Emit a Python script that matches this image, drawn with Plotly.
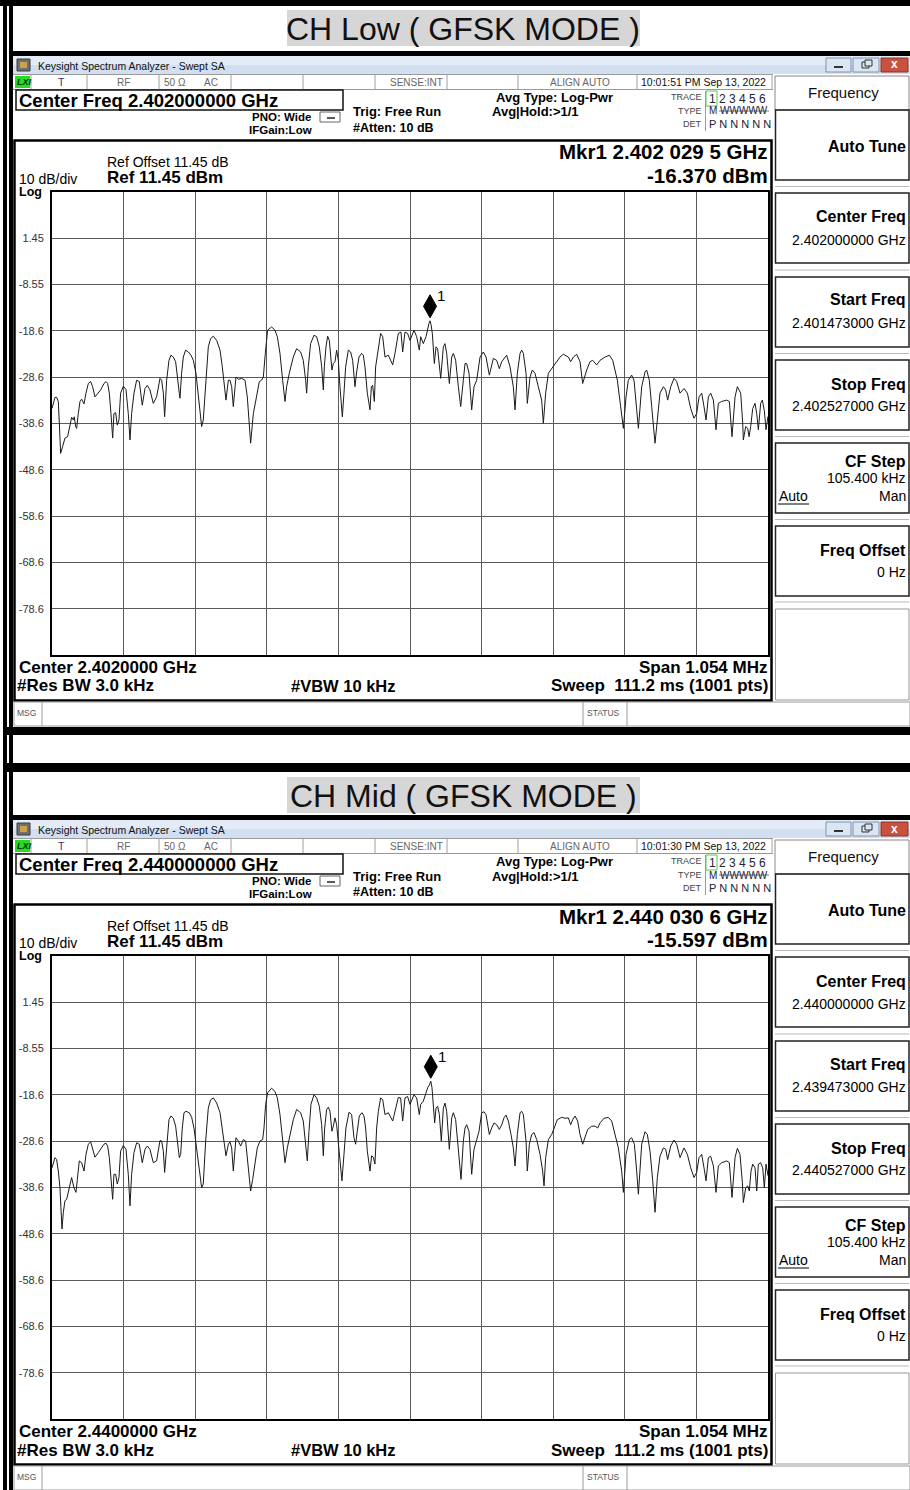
import plotly.graph_objects as go

W, H = 910, 1490
FONT = "Liberation Sans, Arial, sans-serif"

# ---------------- data ----------------
SPAN_KHZ = 1054.0
REF_LEVEL_DBM = 11.45
BOTTOM_LEVEL_DBM = -88.55
Y_TICK_VALS = [1.45, -8.55, -18.55, -28.55, -38.55, -48.55, -58.55, -68.55, -78.55]
Y_TICK_TEXT = ["1.45", "-8.55", "-18.6", "-28.6", "-38.6", "-48.6", "-58.6", "-68.6", "-78.6"]

CHANNEL_NAMES = ["CH Low ( GFSK MODE )", "CH Mid ( GFSK MODE )"]
CENTER_GHZ = [2.402, 2.440]
MKR_OFFSET_KHZ = [29.5, 30.6]
MKR_LEVEL_DBM = [-16.370, -15.597]
TIMESTAMPS = ["10:01:51 PM Sep 13, 2022", "10:01:30 PM Sep 13, 2022"]

LOW_FREQ_KHZ = [
    -527.0, -525.1, -522.6, -520.2, -517.7, -516.2, -514.3, -511.3, -507.9, -504.0,
    -500.5, -498.1, -495.6, -494.2, -492.2, -490.7, -488.3, -485.8, -483.4, -479.9,
    -477.0, -473.5, -470.1, -467.2, -463.7, -458.8, -455.4, -450.5, -447.5, -445.1,
    -442.6, -440.2, -437.7, -435.8, -433.3, -430.9, -428.4, -426.0, -422.0, -418.1,
    -414.7, -412.2, -409.8, -406.3, -402.4, -398.5, -396.5, -394.1, -390.1, -386.7,
    -382.8, -377.9, -373.0, -368.0, -365.6, -363.1, -361.2, -358.2, -354.8, -351.9,
    -348.4, -345.0, -339.6, -338.6, -336.2, -333.7, -330.3, -326.3, -322.4, -319.0,
    -315.1, -311.6, -306.7, -304.3, -300.8, -296.9, -293.5, -289.5, -284.6, -279.7,
    -276.3, -273.3, -270.9, -267.4, -265.0, -262.5, -260.1, -256.2, -252.7, -247.8,
    -242.9, -239.5, -236.5, -234.6, -230.6, -225.7, -221.8, -218.4, -215.9, -213.0,
    -209.6, -203.7, -198.8, -195.3, -191.4, -187.5, -184.0, -181.6, -177.7, -171.8,
    -166.9, -161.0, -157.1, -153.6, -152.2, -149.7, -146.3, -141.3, -137.4, -133.5,
    -130.0, -127.6, -126.1, -123.7, -121.2, -118.8, -114.9, -112.9, -110.4, -108.0,
    -105.5, -103.1, -99.6, -97.2, -94.7, -90.8, -87.4, -84.4, -81.0, -78.5,
    -75.1, -71.2, -68.7, -66.3, -62.8, -58.9, -56.9, -55.0, -52.5, -50.6,
    -46.6, -43.2, -40.2, -36.8, -31.9, -25.5, -22.1, -17.2, -13.3, -10.8,
    -7.4, -3.5, 0.0, 5.9, 9.8, 13.7, 15.7, 19.6, 23.6, 25.5,
    28.0, 29.5, 31.0, 32.9, 35.8, 38.3, 40.7, 45.2, 49.1, 51.5,
    54.0, 57.9, 61.4, 63.8, 67.2, 71.2, 74.6, 78.5, 81.0, 83.4,
    86.9, 90.8, 94.2, 98.2, 103.1, 108.0, 111.9, 116.8, 120.2, 122.7,
    127.6, 131.5, 135.0, 139.9, 142.3, 147.2, 152.1, 154.6, 158.0, 162.0,
    164.4, 166.9, 170.8, 172.7, 176.7, 180.1, 184.0, 188.9, 193.8, 196.3,
    199.7, 203.7, 208.6, 213.5, 220.8, 225.7, 233.1, 236.5, 240.5, 245.4,
    250.3, 254.2, 260.1, 265.0, 268.9, 274.8, 279.7, 287.1, 293.5, 298.4,
    305.2, 310.1, 314.1, 318.0, 321.4, 326.3, 329.8, 333.7, 336.2, 341.1,
    346.0, 348.4, 352.3, 355.8, 359.2, 360.7, 364.1, 368.0, 373.0, 376.4,
    379.3, 383.8, 388.7, 392.6, 397.5, 403.4, 408.3, 413.2, 418.1, 422.0,
    425.5, 429.4, 432.8, 435.8, 439.2, 442.6, 446.6, 450.5, 453.9, 458.8,
    466.2, 470.1, 474.0, 478.5, 481.9, 486.8, 489.8, 490.7, 494.2, 497.1,
    499.1, 501.5, 504.5, 507.9, 510.4, 512.8, 516.2, 518.7, 521.6, 524.1,
    527.0,
]
LOW_LEVEL_DBM = [
    -35.3, -34.1, -32.9, -32.9, -33.8, -38.5, -45.0, -43.5, -41.7, -41.4,
    -39.2, -37.2, -37.8, -37.1, -39.2, -39.6, -36.4, -33.8, -33.3, -34.3,
    -32.0, -29.9, -29.5, -30.6, -32.8, -32.0, -31.3, -29.9, -29.5, -29.9,
    -32.0, -36.4, -41.7, -36.4, -36.2, -38.9, -37.8, -32.0, -30.5, -31.2,
    -36.4, -42.1, -36.4, -32.0, -29.2, -29.5, -32.0, -34.6, -31.0, -30.3,
    -31.3, -34.2, -32.8, -28.8, -29.2, -32.0, -37.1, -29.2, -24.9, -23.8,
    -24.2, -25.2, -32.0, -33.1, -27.7, -24.2, -22.7, -23.1, -23.8, -24.9,
    -27.7, -32.8, -39.2, -37.8, -29.2, -22.0, -20.2, -19.7, -20.6, -22.7,
    -26.3, -31.3, -33.5, -29.2, -29.2, -30.6, -34.9, -28.5, -29.0, -28.8,
    -29.2, -32.8, -37.8, -42.8, -36.4, -32.0, -29.5, -29.2, -28.5, -23.4,
    -18.4, -17.7, -18.4, -19.8, -23.4, -29.2, -33.8, -30.6, -27.7, -24.2,
    -22.4, -23.1, -24.9, -29.2, -32.0, -26.3, -21.3, -19.5, -19.8, -22.0,
    -26.3, -31.3, -26.3, -22.0, -19.7, -20.6, -27.0, -25.6, -25.2, -22.7,
    -24.9, -30.6, -37.1, -32.0, -26.3, -22.7, -23.1, -24.9, -30.6, -27.4,
    -24.2, -23.4, -23.8, -26.3, -32.0, -35.6, -30.6, -30.3, -33.8, -26.3,
    -22.0, -19.1, -19.8, -24.2, -23.8, -25.9, -23.4, -19.1, -18.8, -23.1,
    -18.8, -19.1, -20.6, -18.4, -19.8, -22.7, -19.8, -21.3, -19.8, -18.4,
    -16.9, -16.37, -17.2, -19.1, -25.6, -22.0, -22.4, -28.8, -22.0, -21.3,
    -23.4, -29.9, -24.2, -23.4, -24.9, -30.6, -34.9, -29.2, -25.6, -25.6,
    -27.7, -35.6, -30.6, -29.2, -24.2, -23.1, -24.2, -28.1, -25.6, -24.5,
    -24.9, -26.7, -25.2, -24.2, -23.8, -26.3, -30.6, -35.6, -27.7, -23.4,
    -22.7, -23.4, -27.7, -34.2, -28.5, -27.0, -27.7, -30.6, -33.5, -38.5,
    -32.0, -27.7, -26.7, -25.6, -24.2, -23.6, -24.2, -25.2, -24.2, -23.6,
    -25.2, -29.9, -27.0, -25.2, -24.9, -25.9, -24.9, -24.2, -23.8, -24.9,
    -29.2, -34.9, -39.6, -32.8, -29.2, -28.1, -29.2, -35.6, -39.6, -30.6,
    -27.4, -27.0, -29.2, -34.9, -40.7, -42.8, -37.8, -32.0, -30.6, -31.3,
    -33.5, -30.6, -28.8, -29.5, -32.0, -31.0, -32.0, -35.3, -37.4, -36.4,
    -32.8, -32.0, -34.9, -37.8, -32.8, -32.0, -33.5, -39.9, -34.2, -33.8,
    -33.5, -33.8, -41.4, -32.8, -30.6, -32.0, -38.5, -42.1, -39.2, -39.6,
    -41.4, -39.2, -35.3, -34.2, -36.4, -39.9, -34.2, -33.5, -35.8, -39.9,
    -37.0,
]

MID_FREQ_KHZ = [
    -527.0, -525.1, -522.6, -520.2, -517.7, -515.3, -513.8, -512.3, -510.3, -507.9,
    -505.4, -501.5, -498.1, -494.7, -491.7, -489.7, -486.8, -483.4, -479.9, -477.0,
    -473.5, -470.1, -467.2, -463.7, -458.8, -455.4, -450.5, -447.5, -445.1, -442.6,
    -440.2, -437.7, -435.8, -433.3, -430.9, -428.4, -426.0, -422.0, -418.1, -414.7,
    -412.2, -409.8, -406.3, -402.4, -398.5, -396.5, -394.1, -390.1, -386.7, -382.8,
    -377.9, -373.0, -368.0, -365.6, -363.1, -361.2, -358.2, -354.8, -351.9, -348.4,
    -345.0, -339.6, -337.6, -335.2, -332.7, -329.8, -324.9, -321.4, -318.0, -314.1,
    -310.6, -306.7, -304.3, -300.8, -296.9, -293.5, -289.5, -284.6, -279.7, -276.3,
    -273.3, -270.9, -267.4, -265.0, -262.5, -260.1, -256.2, -252.7, -249.3, -245.4,
    -242.0, -239.5, -236.5, -234.6, -231.6, -228.2, -224.8, -220.8, -216.9, -214.9,
    -212.5, -209.6, -203.7, -198.8, -195.3, -191.4, -187.5, -184.0, -180.6, -176.7,
    -171.8, -166.9, -161.0, -157.1, -153.6, -151.2, -148.7, -145.8, -141.3, -137.4,
    -133.5, -130.0, -127.6, -125.6, -122.7, -120.2, -117.8, -114.9, -112.9, -110.4,
    -108.0, -104.5, -102.1, -100.2, -97.2, -94.3, -89.8, -85.9, -82.5, -80.0,
    -77.6, -74.6, -70.7, -67.7, -65.3, -62.8, -58.9, -56.5, -54.0, -51.6,
    -49.1, -46.6, -43.2, -40.2, -36.8, -31.9, -25.5, -22.1, -17.2, -13.8,
    -10.8, -7.4, -3.5, 0.0, 5.9, 9.8, 13.7, 15.7, 19.6, 23.6,
    26.0, 28.5, 30.6, 32.4, 34.4, 36.3, 38.3, 40.7, 43.2, 46.1,
    49.1, 51.5, 54.0, 57.9, 61.4, 63.8, 67.2, 71.2, 75.1, 78.5,
    81.0, 83.4, 86.9, 90.8, 94.2, 98.2, 101.6, 105.5, 109.0, 111.9,
    116.8, 120.2, 123.7, 127.6, 131.5, 135.0, 138.4, 141.3, 144.8, 148.7,
    152.1, 154.6, 158.0, 162.0, 164.4, 166.9, 170.8, 172.7, 175.7, 179.1,
    182.6, 186.5, 191.4, 195.3, 197.3, 199.7, 203.7, 208.6, 212.5, 216.9,
    223.3, 228.2, 233.1, 236.5, 239.5, 242.9, 246.8, 250.3, 254.2, 257.6,
    261.6, 267.5, 272.4, 276.3, 279.7, 285.6, 292.0, 296.9, 301.8, 306.7,
    311.6, 314.1, 318.0, 322.9, 326.3, 330.3, 333.7, 336.2, 341.1, 346.0,
    349.4, 353.3, 357.3, 360.7, 364.1, 368.0, 373.0, 376.4, 379.3, 383.8,
    388.7, 392.6, 397.5, 403.4, 408.3, 413.2, 418.1, 422.0, 425.5, 429.4,
    432.8, 435.8, 439.2, 442.6, 446.6, 450.5, 453.9, 458.8, 466.2, 470.1,
    474.0, 478.5, 481.9, 485.8, 489.3, 490.7, 494.2, 497.1, 499.5, 502.0,
    504.5, 507.9, 510.4, 512.8, 516.2, 519.2, 521.6, 524.1, 527.0,
]
MID_LEVEL_DBM = [
    -34.3, -33.2, -32.1, -32.5, -35.0, -38.6, -43.9, -47.5, -43.9, -41.4,
    -41.1, -38.2, -36.4, -38.6, -39.6, -36.8, -32.8, -33.2, -35.0, -31.4,
    -29.2, -28.7, -30.0, -32.0, -31.0, -30.3, -29.2, -29.0, -29.6, -32.1,
    -35.7, -41.1, -35.7, -35.7, -37.8, -36.4, -30.7, -29.5, -30.3, -35.7,
    -42.5, -35.7, -31.0, -28.9, -29.2, -31.4, -33.2, -30.3, -29.6, -30.3,
    -33.2, -32.8, -28.4, -28.5, -30.7, -35.3, -29.2, -23.9, -23.1, -23.6,
    -25.3, -32.1, -31.4, -25.7, -22.4, -22.1, -22.4, -23.4, -25.7, -30.0,
    -34.3, -38.6, -37.8, -28.5, -21.4, -19.6, -19.2, -20.3, -22.4, -26.4,
    -30.0, -31.7, -29.2, -28.7, -30.0, -35.0, -27.8, -28.5, -29.6, -28.2,
    -28.5, -32.1, -36.4, -39.3, -36.8, -33.5, -30.0, -28.5, -28.2, -25.7,
    -20.6, -18.1, -17.1, -17.8, -19.2, -22.8, -28.5, -33.2, -30.0, -27.4,
    -23.9, -21.7, -22.4, -24.2, -28.5, -32.8, -26.4, -20.6, -18.5, -19.2,
    -21.0, -25.0, -31.7, -25.7, -21.7, -21.2, -22.1, -26.4, -25.3, -23.5,
    -25.0, -30.0, -34.3, -37.1, -31.4, -25.7, -22.3, -22.8, -27.8, -29.2,
    -26.4, -23.1, -22.4, -23.1, -25.7, -30.7, -35.0, -31.7, -32.0, -33.5,
    -25.7, -22.1, -19.2, -19.6, -22.8, -22.4, -24.2, -22.1, -19.1, -19.2,
    -24.2, -19.2, -18.9, -20.6, -18.5, -19.2, -22.8, -20.6, -19.9, -18.1,
    -17.0, -16.4, -15.6, -17.0, -21.4, -24.6, -21.4, -21.0, -22.8, -28.5,
    -21.4, -20.3, -22.1, -30.3, -23.5, -22.4, -23.9, -30.0, -36.8, -28.5,
    -25.7, -25.0, -26.4, -35.7, -30.3, -28.2, -26.4, -22.4, -22.2, -22.8,
    -27.1, -25.7, -24.6, -25.0, -26.0, -25.0, -23.5, -22.9, -24.2, -27.1,
    -30.0, -33.9, -27.1, -22.4, -22.1, -22.8, -28.5, -35.0, -29.2, -27.1,
    -26.7, -28.2, -31.4, -35.0, -38.2, -32.1, -28.2, -27.1, -25.7, -23.9,
    -23.4, -23.6, -23.5, -25.0, -23.9, -23.1, -24.2, -27.1, -29.2, -27.8,
    -26.0, -25.3, -25.3, -25.7, -24.6, -23.6, -23.4, -24.2, -27.1, -30.0,
    -35.0, -39.6, -31.4, -28.2, -27.8, -29.2, -35.0, -40.0, -29.2, -26.5,
    -27.1, -30.7, -37.1, -43.9, -36.4, -31.8, -30.0, -30.3, -32.5, -29.6,
    -28.3, -29.2, -32.1, -30.0, -31.4, -34.3, -36.4, -35.3, -32.1, -31.4,
    -34.3, -37.1, -32.1, -31.8, -33.9, -39.6, -33.9, -33.2, -32.8, -33.2,
    -40.7, -32.1, -30.1, -31.4, -37.5, -41.8, -38.6, -38.2, -39.3, -35.0,
    -33.5, -34.3, -39.3, -33.5, -33.2, -34.3, -38.6, -33.5, -36.0,
]

TRACES_FREQ = [LOW_FREQ_KHZ, MID_FREQ_KHZ]
TRACES_LEVEL = [LOW_LEVEL_DBM, MID_LEVEL_DBM]

# ---------------- helpers (layout only) ----------------
shapes, annos = [], []


def X(px):
    return px / W


def Y(py):
    return 1 - py / H


def box(x0, y0, x1, y1, fill="rgba(0,0,0,0)", line=None, lw=1.0):
    shapes.append(dict(type="rect", xref="paper", yref="paper",
                       x0=X(x0), x1=X(x1), y0=Y(y1), y1=Y(y0),
                       fillcolor=fill,
                       line=dict(color=line if line else "rgba(0,0,0,0)", width=lw if line else 0),
                       layer="above"))


def hline(x0, x1, y, color="#000", lw=1.0):
    shapes.append(dict(type="line", xref="paper", yref="paper", x0=X(x0), x1=X(x1),
                       y0=Y(y), y1=Y(y), line=dict(color=color, width=lw)))


def vline(x, y0, y1, color="#000", lw=1.0):
    shapes.append(dict(type="line", xref="paper", yref="paper", x0=X(x), x1=X(x),
                       y0=Y(y0), y1=Y(y1), line=dict(color=color, width=lw)))


def txt(x, y, s, size=12, bold=False, anchor="left", color="#000", family=FONT):
    if bold:
        s = "<b>" + s + "</b>"
    annos.append(dict(xref="paper", yref="paper", x=X(x), y=Y(y), text=s, showarrow=False,
                      xanchor=anchor, yanchor="middle", borderpad=0,
                      font=dict(size=size, color=color, family=family)))


def ghz(v, nd):
    return f"{v:.{nd}f}"


fig = go.Figure()

# global black frame pieces
box(0, 0, W, 6, fill="#000")
box(3, 0, 7, H, fill="#000")
box(9, 0, 13, H, fill="#000")

GRID_TOP, GRID_BOT, GRID_L, GRID_R = 192, 655, 52, 768

for i, dy in enumerate([0, 764]):
    c = CENTER_GHZ[i]
    # channel title
    ty = 28 if i == 0 else 795
    box(287, ty - 18, 640, ty + 18, fill="#d6d6d6")
    txt(463.5, ty + 1, CHANNEL_NAMES[i], size=32, anchor="center", color="#111")

    # window top border + title bar
    box(13, 51 + dy, W, 56 + dy, fill="#000")
    box(13, 56 + dy, W, 65 + dy, fill="#e2ebf6")
    box(13, 65 + dy, W, 74 + dy, fill="#d2dff0")
    box(17, 59 + dy, 30, 71 + dy, fill="#6d6f73", line="#3a3a3a", lw=1)
    box(20, 62 + dy, 27, 68 + dy, fill="#c9a24a")
    txt(37, 65.5 + dy, "Keysight Spectrum Analyzer - Swept SA", size=10.5, color="#111")
    # window buttons
    box(826, 58 + dy, 851, 72 + dy, fill="#dbe6f3", line="#7f93b0", lw=1)
    hline(834, 843, 67 + dy, "#333", 2)
    box(853, 58 + dy, 879, 72 + dy, fill="#dbe6f3", line="#7f93b0", lw=1)
    box(862, 62 + dy, 869, 68 + dy, line="#333", lw=1)
    box(865, 60 + dy, 872, 66 + dy, fill="#dbe6f3", line="#333", lw=1)
    box(881, 58 + dy, 908, 72 + dy, fill="#c8513f", line="#8a3326", lw=1)
    txt(894.5, 64.5 + dy, "x", size=12, bold=True, anchor="center", color="#fff")

    # status row
    hline(13, 773, 74.5 + dy, "#9a9a9a", 1)
    hline(13, 773, 89.5 + dy, "#9a9a9a", 1)
    box(15, 76 + dy, 30, 88 + dy, fill="#22dd22")
    txt(16, 82 + dy, "<i>LXI</i>", size=9, bold=True, color="#113311")
    for sx in [31, 87, 159, 231, 303, 375, 447, 518, 637, 772]:
        vline(sx, 75 + dy, 89 + dy, "#a0a0a0", 1)
    txt(62, 82 + dy, "T", size=10.5, anchor="center", color="#3d2b73")
    txt(124, 82 + dy, "RF", size=10, anchor="center", color="#666")
    txt(175, 82 + dy, "50 Ω", size=10, anchor="center", color="#666")
    txt(211, 82 + dy, "AC", size=10, anchor="center", color="#666")
    txt(444, 82 + dy, "SENSE:INT", size=10, anchor="right", color="#666")
    txt(580, 82 + dy, "ALIGN AUTO", size=10, anchor="center", color="#666")
    txt(640, 82 + dy, TIMESTAMPS[i], size=10.5, color="#111")

    # header
    box(16, 90 + dy, 343, 110 + dy, line="#111", lw=1.5)
    txt(18, 100.5 + dy, "Center Freq " + ghz(c, 9) + " GHz", size=18.5, bold=True)
    txt(312, 117 + dy, "PNO: Wide", size=11.5, bold=True, anchor="right")
    box(320, 112 + dy, 340, 122 + dy, line="#666", lw=1)
    hline(327, 335, 118 + dy, "#222", 1.5)
    txt(313, 130 + dy, "IFGain:Low", size=11.5, bold=True, anchor="right")
    txt(352, 112 + dy, "Trig: Free Run", size=13, bold=True)
    txt(352, 128 + dy, "#Atten: 10 dB", size=12.5, bold=True)
    txt(495, 97 + dy, "Avg Type: Log-Pwr", size=13, bold=True)
    txt(491, 112 + dy, "Avg|Hold:>1/1", size=13, bold=True)
    txt(703, 97 + dy, "TRACE", size=9, anchor="right", color="#444")
    txt(703, 111 + dy, "TYPE", size=9, anchor="right", color="#444")
    txt(703, 124 + dy, "DET", size=9, anchor="right", color="#444")
    vline(705.5, 91 + dy, 131 + dy, "#999", 1)
    box(706, 91 + dy, 717, 106 + dy, line="#55cc55", lw=1)
    txt(708, 99 + dy, "1 2 3 4 5 6", size=12, color="#223")
    txt(708, 111 + dy, "M WWWWW", size=10, color="#223")
    hline(719, 769, 111 + dy, "#556", 0.8)
    txt(708, 124 + dy, "P N N N N N", size=11, color="#223")

    # plot frame and texts
    box(14.5, 140.5 + dy, 771.5, 700.5 + dy, line="#000", lw=2.5)
    txt(106, 162 + dy, "Ref Offset 11.45 dB", size=14)
    txt(18, 179 + dy, "10 dB/div", size=14)
    txt(106, 177.5 + dy, "Ref 11.45 dBm", size=17, bold=True)
    txt(18, 192.5 + dy, "Log", size=12.5, bold=True)
    mk = c + MKR_OFFSET_KHZ[i] / 1e6
    s = f"{mk:.7f}"
    txt(769, 152 + dy, "Mkr1 " + s[:5] + " " + s[5:8] + " " + s[8:] + " GHz", size=20.5, bold=True, anchor="right")
    txt(769, 175 + dy, f"{MKR_LEVEL_DBM[i]:.3f} dBm", size=20.5, bold=True, anchor="right")
    txt(18, 667 + dy, "Center " + ghz(c, 7) + " GHz", size=17, bold=True)
    txt(769, 667 + dy, "Span " + f"{SPAN_KHZ / 1000:.3f}" + " MHz", size=17, bold=True, anchor="right")
    txt(16, 686 + dy, "#Res BW 3.0 kHz", size=17, bold=True)
    txt(290, 686 + dy, "#VBW 10 kHz", size=16.5, bold=True)
    txt(769, 686 + dy, "Sweep  111.2 ms (1001 pts)", size=17, bold=True, anchor="right")

    # msg bar
    box(14, 702 + dy, W, 726 + dy, line="#9a9a9a", lw=1)
    txt(16, 713 + dy, "MSG", size=8.5, color="#555")
    vline(42, 702 + dy, 726 + dy, "#9a9a9a", 1)
    vline(583, 702 + dy, 726 + dy, "#9a9a9a", 1)
    txt(586, 713 + dy, "STATUS", size=8.5, color="#555")
    vline(627, 702 + dy, 726 + dy, "#9a9a9a", 1)

    # right soft-key panel
    box(775, 76 + dy, 909, 110 + dy, line="#888", lw=1)
    txt(843, 92 + dy, "Frequency", size=15, anchor="center", color="#111")
    keys = [(110, 180), (193, 263), (277, 347), (360, 430), (443, 513), (526, 596)]
    for k, (a, b) in enumerate(keys):
        box(775.5, a + dy, 909, b + dy, line="#222", lw=1.5)
        if k < len(keys) - 1:
            hline(775, 909, (b + keys[k + 1][0]) / 2 + dy, "#b8b8b8", 1)
    hline(775, 909, 602 + dy, "#b8b8b8", 1)
    box(775.5, 609 + dy, 909, 700 + dy, line="#999", lw=1)
    txt(907, 146 + dy, "Auto Tune", size=16, bold=True, anchor="right")
    txt(907, 217 + dy, "Center Freq", size=16, bold=True, anchor="right")
    txt(907, 240 + dy, ghz(c, 9) + " GHz", size=14, anchor="right")
    txt(907, 300 + dy, "Start Freq", size=16, bold=True, anchor="right")
    txt(907, 323 + dy, ghz(c - SPAN_KHZ / 2e6, 9) + " GHz", size=14, anchor="right")
    txt(907, 384 + dy, "Stop Freq", size=16, bold=True, anchor="right")
    txt(907, 406 + dy, ghz(c + SPAN_KHZ / 2e6, 9) + " GHz", size=14, anchor="right")
    txt(907, 461 + dy, "CF Step", size=16, bold=True, anchor="right")
    txt(907, 478 + dy, f"{SPAN_KHZ / 10:.3f} kHz", size=14, anchor="right")
    txt(778, 496 + dy, "Auto", size=14)
    hline(778, 809, 504 + dy, "#000", 1)
    txt(907, 496 + dy, "Man", size=14, anchor="right")
    txt(907, 550 + dy, "Freq Offset", size=16, bold=True, anchor="right")
    txt(907, 572 + dy, "0 Hz", size=14, anchor="right")

# between-window separators
box(3, 727, W, 735, fill="#000")
box(3, 763, W, 772, fill="#000")

# ---------------- spectrum plots ----------------
for i, dy in enumerate([0, 764]):
    sfx = "" if i == 0 else str(i + 1)
    fig.add_trace(go.Scatter(x=TRACES_FREQ[i], y=TRACES_LEVEL[i], mode="lines",
                             line=dict(color="#1a1a1a", width=1),
                             xaxis="x" + sfx, yaxis="y" + sfx, hoverinfo="skip"))
    xtick = [-SPAN_KHZ / 2 + SPAN_KHZ / 10 * k for k in range(1, 10)]
    fig.update_layout(**{
        "xaxis" + sfx: dict(domain=[X(GRID_L), X(GRID_R)], range=[-SPAN_KHZ / 2, SPAN_KHZ / 2],
                            tickvals=xtick, showticklabels=False, ticks="", showgrid=True,
                            gridcolor="#5a5a5a", gridwidth=1, zeroline=False, showline=True,
                            linecolor="#000", linewidth=2, mirror=True, fixedrange=True,
                            anchor="y" + sfx),
        "yaxis" + sfx: dict(domain=[Y(GRID_BOT + dy), Y(GRID_TOP + dy)],
                            range=[BOTTOM_LEVEL_DBM, REF_LEVEL_DBM],
                            tickvals=Y_TICK_VALS, ticktext=Y_TICK_TEXT, ticks="",
                            tickfont=dict(size=11, color="#333", family=FONT),
                            ticklabelstandoff=4, showgrid=True, gridcolor="#5a5a5a", gridwidth=1,
                            zeroline=False, showline=True, linecolor="#000", linewidth=2,
                            mirror=True, fixedrange=True, anchor="x" + sfx),
    })
    # marker diamond drawn just above the marker point
    shapes.append(dict(type="path", xref="x" + sfx, yref="y" + sfx, xsizemode="pixel",
                       ysizemode="pixel", xanchor=MKR_OFFSET_KHZ[i], yanchor=MKR_LEVEL_DBM[i],
                       path="M 0 3 L 6.5 14.5 L 0 26 L -6.5 14.5 Z", fillcolor="#000",
                       line=dict(color="#000", width=1)))
    annos.append(dict(xref="x" + sfx, yref="y" + sfx, x=MKR_OFFSET_KHZ[i], y=MKR_LEVEL_DBM[i],
                      text="1", showarrow=False, xshift=11, yshift=25,
                      font=dict(size=15, color="#000", family=FONT)))

fig.update_layout(width=W, height=H, margin=dict(l=0, r=0, t=0, b=0),
                  paper_bgcolor="#fff", plot_bgcolor="#fff", showlegend=False,
                  shapes=shapes, annotations=annos)

fig.write_html("out.html", config={"displayModeBar": False},
               post_script="document.body.style.margin='0px';")
